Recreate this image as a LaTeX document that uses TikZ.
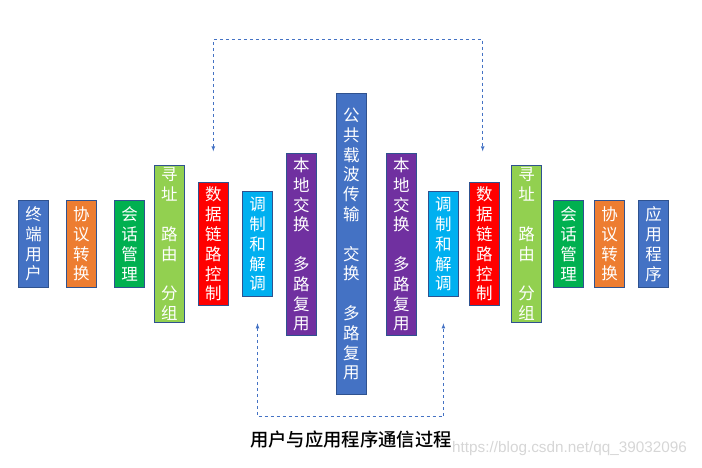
\documentclass[tikz,border=0pt]{standalone}
\usepackage{fontspec}
\newfontfamily\cjk{Noto Sans CJK SC}
\newfontfamily\cjkmed{Noto Sans CJK SC}[UprightFont=* Medium]
\newfontfamily\wmfont{Liberation Sans}
\usetikzlibrary{arrows.meta}
\definecolor{offblue}{HTML}{4472C4}
\definecolor{boxline}{HTML}{2F528F}
\definecolor{offorange}{HTML}{ED7D31}
\definecolor{offgreen}{HTML}{00B050}
\definecolor{lightgreen}{HTML}{92D050}
\definecolor{offred}{HTML}{FF0000}
\definecolor{offcyan}{HTML}{00B0F0}
\definecolor{offpurple}{HTML}{7030A0}
\tikzset{
  box/.style={draw=boxline, line width=1pt, text=white, minimum width=29.5pt,
    inner sep=0pt, align=center, font=\cjk\fontsize{16.5}{19.8}\selectfont},
  link/.style={draw=offblue, dashed, line width=0.7pt}
}
\begin{document}
\begin{tikzpicture}[>=latex, x=1pt, y=-1pt]
    \useasboundingbox (0,0) rectangle (702,467);
    % left side: user
    \node[box, fill=offblue, minimum height=87pt] (user) at (33.5,244) {终\\端\\用\\户};
    \node[box, fill=offorange, minimum height=87pt] (proL) at (81.4,244) {协\\议\\转\\换};
    \node[box, fill=offgreen, minimum height=87pt] (sesL) at (129.5,244) {会\\话\\管\\理};
    \node[box, fill=lightgreen, minimum height=156.7pt] (addrL) at (169.4,244) {寻\\址\\~\\路\\由\\~\\分\\组};
    \node[box, fill=offred, minimum height=122.7pt] (dlL) at (213.3,244.2) {数\\据\\链\\路\\控\\制};
    \node[box, fill=offcyan, minimum height=105.3pt] (modL) at (257.5,244.2) {调\\制\\和\\解\\调};
    \node[box, fill=offpurple, minimum height=181.7pt] (swL) at (301.4,244.4) {本\\地\\交\\换\\~\\多\\路\\复\\用};
    % public carrier
    \node[box, fill=offblue, minimum height=300.7pt] (pub) at (351.4,244.2) {公\\共\\载\\波\\传\\输\\~\\交\\换\\~\\多\\路\\复\\用};
    % right side: application
    \node[box, fill=offpurple, minimum height=181.7pt] (swR) at (401.4,244.4) {本\\地\\交\\换\\~\\多\\路\\复\\用};
    \node[box, fill=offcyan, minimum height=105.3pt] (modR) at (443.4,244.2) {调\\制\\和\\解\\调};
    \node[box, fill=offred, minimum height=122.7pt] (dlR) at (484.4,244.2) {数\\据\\链\\路\\控\\制};
    \node[box, fill=lightgreen, minimum height=156.7pt] (addrR) at (526.5,244) {寻\\址\\~\\路\\由\\~\\分\\组};
    \node[box, fill=offgreen, minimum height=87pt] (sesR) at (568.5,244) {会\\话\\管\\理};
    \node[box, fill=offorange, minimum height=87pt] (proR) at (609.5,244) {协\\议\\转\\换};
    \node[box, fill=offblue, minimum height=87pt] (app) at (653.5,244) {应\\用\\程\\序};
    % dashed links
    \coordinate (dlLtip) at ([yshift=31pt]dlL.north);
    \coordinate (dlRtip) at ([yshift=31pt,xshift=-1.7pt]dlR.north);
    \coordinate (top) at (0,39.5);
    \draw[link,<->] (dlLtip) -- (dlLtip |- top) -| (dlRtip);
    \coordinate (modLtip) at ([yshift=-26pt]modL.south);
    \coordinate (modRtip) at ([yshift=-26pt]modR.south);
    \coordinate (bottom) at (0,416.7);
    \draw[link,<->] (modLtip) -- (modLtip |- bottom) -| (modRtip);
    % caption
    \node[font=\cjkmed\fontsize{18.3}{20}\selectfont] (caption) at (351,440) {用户与应用程序通信过程};
    \node[anchor=west, text=black!16, font=\wmfont\fontsize{15.3}{17}\selectfont, inner sep=0pt] (mark) at (452,449) {https://blog.csdn.net/qq\_39032096};
\end{tikzpicture}
\end{document}
